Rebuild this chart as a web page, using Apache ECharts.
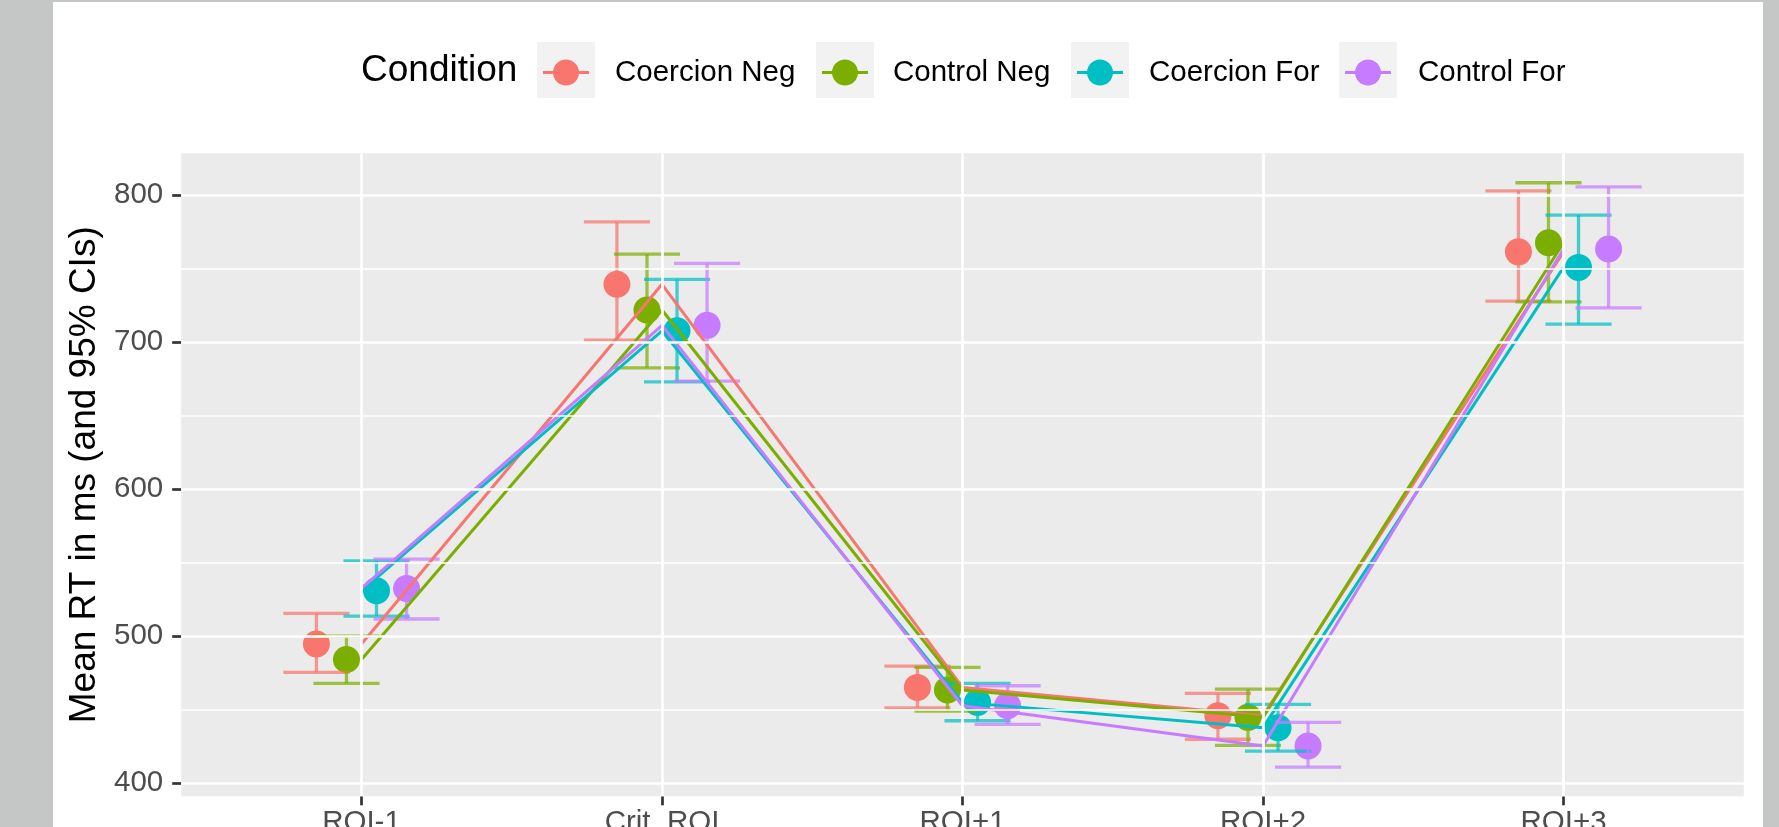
<!DOCTYPE html>
<html>
<head>
<meta charset="utf-8">
<script src="https://cdn.jsdelivr.net/npm/echarts@6.0.0/dist/echarts.min.js"></script>
<style>
  html, body { margin: 0; padding: 0; background: #ffffff; }
  #chart { width: 1779px; height: 827px; }
</style>
</head>
<body>
<div id="chart"></div>
<script>
// Regions of interest along the sentence
const categories = ['ROI-1', 'Crit_ROI', 'ROI+1', 'ROI+2', 'ROI+3'];
const conditions = ['Coercion Neg', 'Control Neg', 'Coercion For', 'Control For'];
const colors = ['#F8766D', '#7CAE00', '#00BFC4', '#C77CFF'];

// Mean reading times (ms) per condition
const coercionNegMean = [494.6, 739.3, 465.1, 445.8, 761.4];
const controlNegMean  = [484.1, 721.8, 463.3, 444.7, 767.6];
const coercionForMean = [530.8, 707.7, 454.9, 437.7, 750.8];
const controlForMean  = [532.4, 711.4, 452.6, 425.2, 763.3];

// 95% confidence interval bounds
const coercionNegLower = [475.3, 701.4, 451.2, 429.8, 727.9];
const coercionNegUpper = [515.4, 781.8, 479.6, 461.0, 802.9];
const controlNegLower  = [467.8, 682.5, 449.0, 425.7, 727.4];
const controlNegUpper  = [500.0, 759.9, 478.7, 463.9, 808.4];
const coercionForLower = [513.6, 673.0, 442.4, 421.8, 712.2];
const coercionForUpper = [551.2, 742.7, 467.8, 453.5, 786.4];
const controlForLower  = [511.6, 673.5, 439.9, 410.9, 723.3];
const controlForUpper  = [552.4, 753.5, 466.2, 441.3, 805.6];

// Axis ticks
const yTicks = [400, 500, 600, 700, 800];
const yMinorTicks = [450, 550, 650, 750];

const means = [coercionNegMean, controlNegMean, coercionForMean, controlForMean];
const lowers = [coercionNegLower, controlNegLower, coercionForLower, controlForLower];
const uppers = [coercionNegUpper, controlNegUpper, coercionForUpper, controlForUpper];

// dodge offsets (in category units) and error bar cap half-width
const dodge = [-0.15, -0.05, 0.05, 0.15];
const capHalf = 0.11;

const FONT = "'Liberation Sans', Arial, Helvetica, sans-serif";
const catIdx = categories.map((_, i) => i);

const chart = echarts.init(document.getElementById('chart'), null, { renderer: 'canvas' });

const series = [];

// background grid lines
series.push({
  name: '__grid',
  type: 'line',
  data: [],
  z: 1,
  silent: true,
  markLine: {
    silent: true,
    animation: false,
    symbol: ['none', 'none'],
    label: { show: false },
    lineStyle: { color: '#ffffff', width: 2.7, type: 'solid', opacity: 1 },
    emphasis: { disabled: true },
    data: [
      ...yMinorTicks.map(v => ({ yAxis: v, lineStyle: { width: 1.5 } })),
      ...yTicks.map(v => ({ yAxis: v })),
      ...catIdx.map(i => ({ xAxis: i }))
    ]
  }
});

// points (dodged)
conditions.forEach((name, k) => {
  series.push({
    name,
    type: 'scatter',
    z: 2,
    symbol: 'circle',
    symbolSize: 27,
    itemStyle: { color: colors[k], opacity: 1 },
    emphasis: { disabled: true },
    data: means[k].map((m, i) => [i + dodge[k], m])
  });
});

// error bars (dodged)
conditions.forEach((name, k) => {
  series.push({
    name,
    type: 'custom',
    z: 3,
    itemStyle: { color: colors[k] },
    encode: { x: 0, y: [1, 2] },
    data: lowers[k].map((lo, i) => [i + dodge[k], lo, uppers[k][i]]),
    renderItem: function (params, api) {
      const x = api.value(0), lo = api.value(1), hi = api.value(2);
      const pTop = api.coord([x, hi]);
      const pBot = api.coord([x, lo]);
      const xl = api.coord([x - capHalf, hi])[0];
      const xr = api.coord([x + capHalf, hi])[0];
      const style = { stroke: colors[k], lineWidth: 3.3, opacity: 0.72, lineCap: 'butt' };
      return {
        type: 'group',
        children: [
          { type: 'line', shape: { x1: pTop[0], y1: pTop[1], x2: pBot[0], y2: pBot[1] }, style },
          { type: 'line', shape: { x1: xl, y1: pTop[1], x2: xr, y2: pTop[1] }, style },
          { type: 'line', shape: { x1: xl, y1: pBot[1], x2: xr, y2: pBot[1] }, style }
        ]
      };
    }
  });
});

// connecting lines at category centres
conditions.forEach((name, k) => {
  series.push({
    name,
    type: 'line',
    z: 4,
    showSymbol: false,
    symbol: 'none',
    lineStyle: { color: colors[k], width: 3 },
    itemStyle: { color: colors[k] },
    emphasis: { disabled: true },
    data: means[k].map((m, i) => [i, m])
  });
});

// legend key icon: horizontal stroke through a dot
const keyIcon = 'path://M0,11.4 L46,11.4 L46,14.6 L0,14.6 Z M10,13 A13,13 0 1,1 36,13 A13,13 0 1,1 10,13 Z';
const keyBoxLeft = [537, 816, 1071, 1339];
const keyTextPad = [21, 20, 21, 22];

const legends = conditions.map((name, k) => ({
  data: [name],
  left: keyBoxLeft[k] + 6,
  top: 57.5,
  padding: 0,
  itemGap: 0,
  itemWidth: 46,
  itemHeight: 26,
  icon: keyIcon,
  selectedMode: false,
  z: 5,
  itemStyle: { color: colors[k], borderWidth: 0 },
  textStyle: { fontFamily: FONT, fontSize: 29.5, color: '#000000', padding: [0, 0, 0, keyTextPad[k]] }
}));

const option = {
  animation: false,
  backgroundColor: '#ffffff',
  textStyle: { fontFamily: FONT },
  grid: {
    left: 181.2, top: 153.2, width: 1562.6, height: 643.1,
    show: true, backgroundColor: '#EBEBEB', borderWidth: 0,
    containLabel: false, outerBoundsMode: 'none'
  },
  legend: legends,
  xAxis: {
    type: 'value',
    min: -0.6, max: 4.6,
    axisLine: { show: false, onZero: false },
    splitLine: { show: false },
    axisTick: {
      show: true, length: 9, customValues: catIdx,
      lineStyle: { color: '#333333', width: 2.7 }
    },
    axisLabel: {
      show: true, margin: 12, customValues: catIdx,
      fontFamily: FONT, fontSize: 29.5, color: '#4D4D4D',
      formatter: v => categories[Math.round(v)]
    }
  },
  yAxis: {
    type: 'value',
    min: 391, max: 828.5,
    name: 'Mean RT in ms (and 95% CIs)',
    nameLocation: 'middle',
    nameGap: 75,
    nameTextStyle: { fontFamily: FONT, fontSize: 37, color: '#000000' },
    axisLine: { show: false, onZero: false },
    splitLine: { show: false },
    axisTick: {
      show: true, length: 9, customValues: yTicks,
      lineStyle: { color: '#333333', width: 2.7 }
    },
    axisLabel: {
      show: true, margin: 18, customValues: yTicks,
      fontFamily: FONT, fontSize: 29.5, color: '#4D4D4D'
    }
  },
  graphic: [
    { type: 'rect', z: 100, silent: true, shape: { x: 0, y: 0, width: 53, height: 827 }, style: { fill: '#C5C7C6' } },
    { type: 'rect', z: 100, silent: true, shape: { x: 1763, y: 0, width: 16, height: 827 }, style: { fill: '#C5C7C6' } },
    { type: 'rect', z: 100, silent: true, shape: { x: 0, y: 0, width: 1779, height: 2 }, style: { fill: '#C5C7C6' } },
    ...keyBoxLeft.map(x => ({
      type: 'rect', z: 1, silent: true,
      shape: { x: x, y: 42, width: 58, height: 56 },
      style: { fill: '#F2F2F2' }
    })),
    {
      type: 'text', z: 5, silent: true, x: 361, y: 70.5,
      style: { text: 'Condition', font: '37px ' + FONT, fill: '#000000', textVerticalAlign: 'middle', verticalAlign: 'middle' }
    }
  ],
  series
};

chart.setOption(option);
</script>
</body>
</html>
